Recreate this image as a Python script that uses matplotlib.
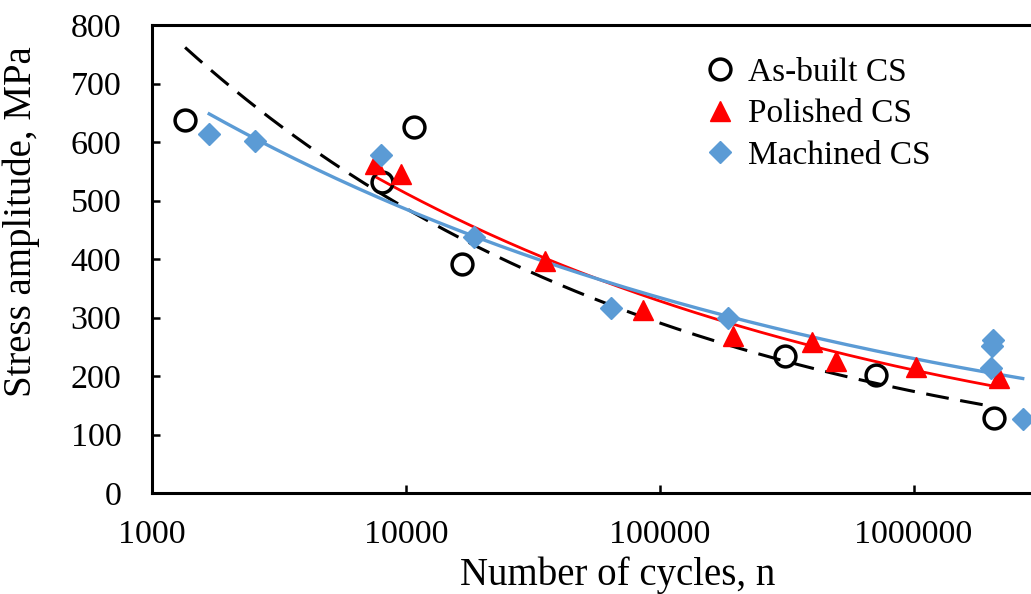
import numpy as np
import matplotlib.pyplot as plt
from matplotlib.lines import Line2D

plt.rcParams["font.family"] = ["Liberation Serif", "DejaVu Serif"]

# as-built CS
asbuilt_n = [1350, 8040, 10800, 16700, 311000, 710000, 2070000]
asbuilt_s = [638, 532, 626, 392, 234, 202, 128]

# polished CS
polished_n = [7540, 9530, 35400, 86000, 195000, 397000, 494000, 1020000, 2160000]
polished_s = [563, 546, 396, 312, 268, 258, 226, 215, 197]

# machined CS
machined_n = [1680, 2540, 7950, 18600, 64400, 186000, 2050000, 2030000, 2010000, 2690000]
machined_s = [614, 602, 577, 438, 317, 300, 262, 252, 214, 126]

xticks = [1000, 10000, 100000, 1000000]
xtick_labels = ["1000", "10000", "100000", "1000000"]
yticks = [0, 100, 200, 300, 400, 500, 600, 700, 800]

blue = "#5B9BD5"


def power_fit(n, s):
    # Excel style power trendline: fit in log-log space
    b, a = np.polyfit(np.log(n), np.log(s), 1)
    xs = np.logspace(np.log10(min(n)), np.log10(max(n)), 200)
    return xs, np.exp(a) * xs ** b


fig = plt.figure(figsize=(10.31, 5.94), dpi=100)
ax = fig.add_axes([152 / 1031, 1 - 493 / 594, 1 - 152 / 1031, (493 - 25) / 594])

fx, fy = power_fit(asbuilt_n, asbuilt_s)
ax.plot(fx, fy, color="black", lw=2.2, dashes=(7.5, 3.8))
fx, fy = power_fit(polished_n, polished_s)
ax.plot(fx, fy, color="red", lw=2.0)
fx, fy = power_fit(machined_n, machined_s)
ax.plot(fx, fy, color=blue, lw=2.4)

ax.plot(asbuilt_n, asbuilt_s, "o", ms=15, mfc="none", mec="black", mew=2.5, ls="none")
ax.plot(polished_n, polished_s, "^", ms=15, color="red", mec="red", ls="none")
ax.plot(machined_n, machined_s, "D", ms=11, color=blue, mec=blue, ls="none")

ax.set_xscale("log")
ax.set_xlim(1000, 2.9e6)
ax.set_ylim(0, 800)
ax.set_xticks(xticks)
ax.set_xticklabels(xtick_labels)
ax.xaxis.set_minor_locator(plt.NullLocator())
ax.set_yticks(yticks)

ax.spines["right"].set_visible(False)
for sp in ["left", "bottom", "top"]:
    ax.spines[sp].set_linewidth(2.2)
ax.tick_params(direction="in", length=6, width=1.8, labelsize=24.5)
ax.tick_params(axis="x", pad=19)
ax.tick_params(axis="y", pad=22)

ax.set_xlabel("Number of cycles, n", fontsize=28)
ax.set_ylabel("Stress amplitude, MPa", fontsize=28)
ax.xaxis.set_label_coords(0.53, -0.135)
ax.yaxis.set_label_coords(-0.127, 0.58)

handles = [
    Line2D([], [], marker="o", ls="none", ms=15, mfc="none", mec="black", mew=2.5),
    Line2D([], [], marker="^", ls="none", ms=15, color="red"),
    Line2D([], [], marker="D", ls="none", ms=11, color=blue),
]
ax.legend(handles, ["As-built CS", "Polished CS", "Machined CS"], loc="upper left",
          bbox_to_anchor=(0.589, 0.995), frameon=False, fontsize=24,
          handletextpad=0.25, labelspacing=0.33, handlelength=1.2)

fig.savefig("out.png", dpi=100)
